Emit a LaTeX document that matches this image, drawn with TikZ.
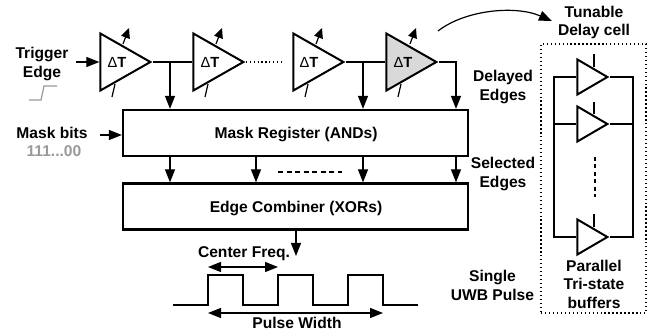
\documentclass[tikz,border=0pt]{standalone}
\usepackage{fontspec}
\setmainfont{Liberation Sans}
\usetikzlibrary{shapes.geometric,arrows.meta}
\newlength{\du}
\setlength{\du}{0.75pt}
\definecolor{cellgray}{rgb}{0.850000, 0.850000, 0.850000}
\definecolor{bitsgray}{rgb}{0.600000, 0.600000, 0.600000}
\tikzset{
  boldtext/.style={font=\fontsize{11.7}{13.9}\selectfont\bfseries,align=center,inner sep=0pt},
  delaytext/.style={font=\fontsize{11}{13.9}\selectfont\bfseries,inner sep=0pt},
  delaytri/.style={draw,isosceles triangle,isosceles triangle stretches,shape border rotate=0,
    minimum width=57\du,minimum height=50\du,inner sep=0pt,line width=2\du,miter limit=20},
  buftri/.style={delaytri,minimum width=35\du,minimum height=30\du},
  blockbox/.style={draw,rectangle,line width=2.2\du,minimum width=345\du,minimum height=46\du,inner sep=0pt},
  wire/.style={line width=1.2\du},
  arrowwire/.style={wire,-{Triangle[length=9.75pt,width=7.5pt]}},
  bothwire/.style={wire,{Triangle[length=9.75pt,width=7.5pt]}-{Triangle[length=9.75pt,width=7.5pt]}},
  tunewire/.style={wire,-{Triangle[length=7.5pt,width=6.75pt]}}
}
\begin{document}
\begin{tikzpicture}
\pgftransformxscale{1.000000}
\pgftransformyscale{-1.000000}
\useasboundingbox (0\du,0\du) rectangle (651\du,335\du);
% delay line
\node[delaytri,anchor=apex] (delay1) at (153\du,62\du){};
\node[delaytri,anchor=apex] (delay2) at (246\du,62\du){};
\node[delaytri,anchor=apex] (delay3) at (346\du,62\du){};
\node[delaytri,anchor=apex,fill=cellgray] (delay4) at (439\du,62\du){};
\node[delaytext] (dt1) at (117\du,62\du){{\mdseries Δ}T};
\node[delaytext] (dt2) at (210\du,62\du){{\mdseries Δ}T};
\node[delaytext] (dt3) at (309\du,62\du){{\mdseries Δ}T};
\node[delaytext] (dt4) at (403\du,62\du){{\mdseries Δ}T};
% blocks
\node[blockbox] (mask) at (295.5\du,133\du){};
\node[boldtext] (masktext) at (296\du,135\du){Mask Register (ANDs)};
\node[blockbox] (edge) at (295.5\du,206.5\du){};
\node[boldtext] (edgetext) at (296\du,209\du){Edge Combiner (XORs)};
% tuning ticks
\coordinate (up1a) at (123\du,44\du);
\coordinate (up1b) at (129\du,28\du);
\coordinate (up2a) at (216\du,44\du);
\coordinate (up2b) at (222\du,28\du);
\coordinate (up3a) at (316\du,44\du);
\coordinate (up3b) at (322\du,28\du);
\coordinate (up4a) at (410\du,44\du);
\coordinate (up4b) at (416\du,28\du);
\coordinate (low1a) at (115\du,84\du);
\coordinate (low1b) at (112\du,97\du);
\coordinate (low2a) at (208\du,84\du);
\coordinate (low2b) at (205\du,97\du);
\coordinate (low3a) at (308\du,84\du);
\coordinate (low3b) at (305\du,97\du);
\coordinate (low4a) at (401\du,84\du);
\coordinate (low4b) at (398\du,97\du);
\draw[tunewire] (up1a)--(up1b);
\draw[tunewire] (up2a)--(up2b);
\draw[tunewire] (up3a)--(up3b);
\draw[tunewire] (up4a)--(up4b);
\draw[wire] (low1a)--(low1b);
\draw[wire] (low2a)--(low2b);
\draw[wire] (low3a)--(low3b);
\draw[wire] (low4a)--(low4b);
% wires of the delay line
\coordinate (trigin) at (76\du,62\du);
\coordinate (dotend) at (282\du,62\du);
\coordinate (tap1) at (170\du,62\du);
\coordinate (tap3) at (363\du,62\du);
\coordinate (tap4) at (456\du,62\du);
\coordinate (maskin) at (100\du,135\du);
\draw[arrowwire] (trigin)--(delay1.lower side);
\draw[wire] (delay1.apex)--(delay2.lower side);
\draw[wire,dotted] (delay2.apex)--(dotend);
\draw[wire] (delay3.apex)--(delay4.lower side);
\draw[arrowwire] (tap1)--(tap1 |- mask.north);
\draw[arrowwire] (tap3)--(tap3 |- mask.north);
\draw[arrowwire] (delay4.apex)--(tap4)--(tap4 |- mask.north);
\draw[arrowwire] (maskin)--(maskin -| mask.west);
% selected edges
\coordinate (sel1) at (170\du,156\du);
\coordinate (sel2) at (256\du,156\du);
\coordinate (sel3) at (363\du,156\du);
\coordinate (sel4) at (456\du,156\du);
\coordinate (seldasha) at (278\du,172\du);
\coordinate (seldashb) at (342\du,172\du);
\draw[arrowwire] (sel1)--(sel1 |- edge.north);
\draw[arrowwire] (sel2)--(sel2 |- edge.north);
\draw[arrowwire] (sel3)--(sel3 |- edge.north);
\draw[arrowwire] (sel4)--(sel4 |- edge.north);
\draw[line width=1.8\du,dash pattern=on 5\du off 3.5\du] (seldasha)--(seldashb);
% pulse
\coordinate (pulseout) at (296\du,256\du);
\coordinate (freqa) at (208\du,267\du);
\coordinate (freqb) at (278\du,267\du);
\coordinate (widtha) at (208\du,313\du);
\coordinate (widthb) at (383\du,313\du);
\draw[arrowwire] (pulseout |- edge.south)--(pulseout);
\draw[bothwire] (freqa)--(freqb);
\draw[bothwire] (widtha)--(widthb);
\draw[wire] (173\du,305\du)--(208\du,305\du)--(208\du,275\du)--(243\du,275\du)--(243\du,305\du)--(278\du,305\du)--(278\du,275\du)--(313\du,275\du)--(313\du,305\du)--(348\du,305\du)--(348\du,275\du)--(383\du,275\du)--(383\du,305\du)--(418\du,305\du);
\node[boldtext] (freqtext) at (244\du,254\du){Center Freq.};
\node[boldtext] (widthtext) at (297\du,323\du){Pulse Width};
% trigger step
\draw[wire,bitsgray] (29\du,100\du)--(41\du,100\du)--(44\du,86\du)--(57\du,86\du);
% left labels
\node[boldtext] (trigtext) at (42\du,64\du){Trigger\\Edge};
\node[boldtext] (bitstext) at (52\du,133\du){Mask bits};
\node[boldtext,text=bitsgray] (bitsval) at (54\du,151\du){111...00};
% middle labels
\node[boldtext] (celltext) at (594\du,22.5\du){Tunable\\Delay cell};
\node[boldtext] (delayedtext) at (503\du,87\du){Delayed\\Edges};
\node[boldtext] (selectedtext) at (503\du,174\du){Selected\\Edges};
\node[boldtext] (singletext) at (492.5\du,285.5\du){Single\\UWB Pulse};
% curved pointer
\coordinate (curvea) at (438\du,31\du);
\coordinate (curveb) at (552\du,21\du);
\draw[arrowwire] (curvea) .. controls (465\du,10\du) and (515\du,5\du) .. (curveb);
% tunable cell
\node[draw,rectangle,line width=1.3\du,dotted,minimum width=105\du,minimum height=269\du,inner sep=0pt] (cell) at (593.5\du,178.5\du){};
\node[buftri,anchor=apex] (buf1) at (610\du,77\du){};
\node[buftri,anchor=apex] (buf2) at (610\du,124\du){};
\node[buftri,anchor=apex] (buf3) at (610\du,237\du){};
\coordinate (busl1) at (554\du,77\du);
\coordinate (busl2) at (554\du,124\du);
\coordinate (busl3) at (554\du,237\du);
\coordinate (busr1) at (633\du,77\du);
\coordinate (busr2) at (633\du,124\du);
\coordinate (busr3) at (633\du,237\du);
\draw[wire] (buf1.lower side)--(busl1)--(busl3)--(buf3.lower side);
\draw[wire] (buf1.apex)--(busr1)--(busr3)--(buf3.apex);
\draw[wire] (busl2)--(buf2.lower side);
\draw[wire] (buf2.apex)--(busr2);
\coordinate (ena1) at (594\du,54\du);
\coordinate (ena1b) at (594\du,67\du);
\coordinate (ena2) at (594\du,102\du);
\coordinate (ena2b) at (594\du,114\du);
\coordinate (ena3) at (594\du,214\du);
\coordinate (ena3b) at (594\du,227\du);
\draw[wire] (ena1)--(ena1b);
\draw[wire] (ena2)--(ena2b);
\draw[wire] (ena3)--(ena3b);
\coordinate (vdota) at (595\du,157\du);
\coordinate (vdotb) at (595\du,197\du);
\draw[line width=2.4\du,dash pattern=on 4\du off 3.5\du] (vdota)--(vdotb);
\node[boldtext] (buftext) at (594\du,284\du){Parallel\\Tri-state\\buffers};
\end{tikzpicture}
\end{document}
